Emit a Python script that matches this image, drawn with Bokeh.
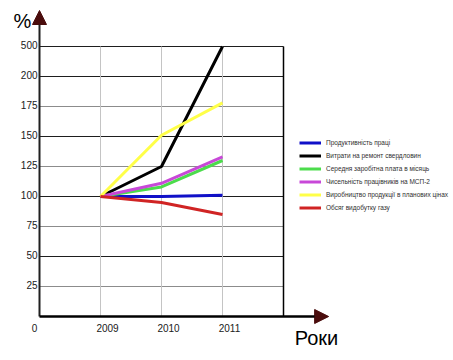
from bokeh.plotting import figure
from bokeh.models import ColumnDataSource, Arrow, NormalHead, Legend, LegendItem, Range1d
from bokeh.core.properties import value
from bokeh.embed import file_html
from bokeh.resources import INLINE

# ---- data ----
years = ["2009", "2010", "2011"]
productivity = [100, 100, 101]     # Продуктивність праці
repair_costs = [100, 125, 500]     # Витрати на ремонт свердловин
avg_salary = [100, 108, 130]       # Середня заробітна плата в місяць
headcount = [100, 111, 133]        # Чисельність працівників на МСП-2
production = [100, 151, 178]       # Виробництво продукції в планових цінах
gas_output = [100, 95, 85]         # Обсяг видобутку газу

series_names = [
    "Продуктивність праці",
    "Витрати на ремонт свердловин",
    "Середня заробітна плата в місяць",
    "Чисельність працівників на МСП-2",
    "Виробництво продукції в планових цінах",
    "Обсяг видобутку газу",
]
series_values = [productivity, repair_costs, avg_salary, headcount, production, gas_output]
series_colors = ["#1010c8", "#000000", "#4cdc4c", "#c848d8", "#ffff48", "#d02424"]

y_ticks = [25, 50, 75, 100, 125, 150, 175, 200, 500]
x_tick_labels = ["0", "2009", "2010", "2011"]

# broken y-scale: linear up to 200, then one step of 25 units for 200..500
def ypos(v):
    return v if v <= 200 else 200 + (v - 200) * 25.0 / 300.0

x_years = [i + 1 for i in range(len(years))]
x_end = len(years) + 1
y_top = ypos(max(y_ticks))

FONT = "Liberation Sans"

W, H = 453, 360
PXX, X0 = 61.0, 39.0
PXY, Y0 = 30.0 / 25.0, 316.0

p = figure(width=W, height=H,
           x_range=Range1d(-X0 / PXX, (W - X0) / PXX),
           y_range=Range1d(-(H - Y0) / PXY, Y0 / PXY),
           output_backend="svg", toolbar_location=None,
           x_axis_type=None, y_axis_type=None, min_border=0)
p.outline_line_color = None
p.background_fill_color = "white"
p.border_fill_color = "white"

# grid lines
dark = {50, 100, 150, 200, 500}
hy = [ypos(v) for v in y_ticks]
hcol = ["#1e1e1e" if v in dark else "#8c8c8c" for v in y_ticks]
p.segment(x0=[0] * len(hy), y0=hy, x1=[x_end] * len(hy), y1=hy, line_color=hcol, line_width=1)
p.segment(x0=x_years, y0=[0] * len(x_years), x1=x_years, y1=[y_top] * len(x_years),
          line_color="#c4c4c4", line_width=1)
p.segment(x0=[x_end], y0=[0], x1=[x_end], y1=[y_top], line_color="#000000", line_width=1.5)

# series
items = []
for name, vals, col in zip(series_names, series_values, series_colors):
    src = ColumnDataSource(dict(x=x_years, y=[ypos(v) for v in vals]))
    r = p.line("x", "y", source=src, line_color=col, line_width=3)
    items.append(LegendItem(label=name, renderers=[r]))

# axes with arrows
head_col = "#4a0c0c"
p.add_layout(Arrow(x_start=0, y_start=0, x_end=0, y_end=255, line_color="#202020", line_width=2,
                   end=NormalHead(size=14, fill_color=head_col, line_color=head_col)))
p.add_layout(Arrow(x_start=0, y_start=0, x_end=4.74, y_end=0, line_color="#000000", line_width=2.5,
                   end=NormalHead(size=14, fill_color=head_col, line_color=head_col)))

# y tick labels
p.text(x=[0] * len(y_ticks), y=hy, text=[str(v) for v in y_ticks],
       text_align="right", text_baseline="middle", x_offset=-2, y_offset=-2,
       text_font=value(FONT), text_font_size="10px", text_color="#202020")
# x tick labels
p.text(x=x_years, y=[0] * len(x_years), text=x_tick_labels[1:],
       text_align="center", text_baseline="middle", x_offset=7, y_offset=11,
       text_font=value(FONT), text_font_size="10px", text_color="#202020")
p.text(x=[0], y=[0], text=x_tick_labels[:1],
       text_align="center", text_baseline="middle", x_offset=-5, y_offset=11,
       text_font=value(FONT), text_font_size="10px", text_color="#202020")

# axis titles
p.text(x=[-0.28], y=[246], text=["%"], text_align="center", text_baseline="middle",
       text_font=value(FONT), text_font_size="20px", text_color="#000000")
p.text(x=[4.54], y=[-18.3], text=["Роки"], text_align="center", text_baseline="middle",
       text_font=value(FONT), text_font_size="20px", text_color="#000000")

legend = Legend(items=items, location=(299, 147),
                label_text_font=FONT, label_text_font_size="6.5px", label_text_color="#303030",
                glyph_width=22, glyph_height=11, label_height=11, label_standoff=5,
                spacing=2, padding=0, margin=0,
                border_line_color=None, background_fill_alpha=0)
p.add_layout(legend)

open("out.html", "w").write(file_html(p, INLINE))
